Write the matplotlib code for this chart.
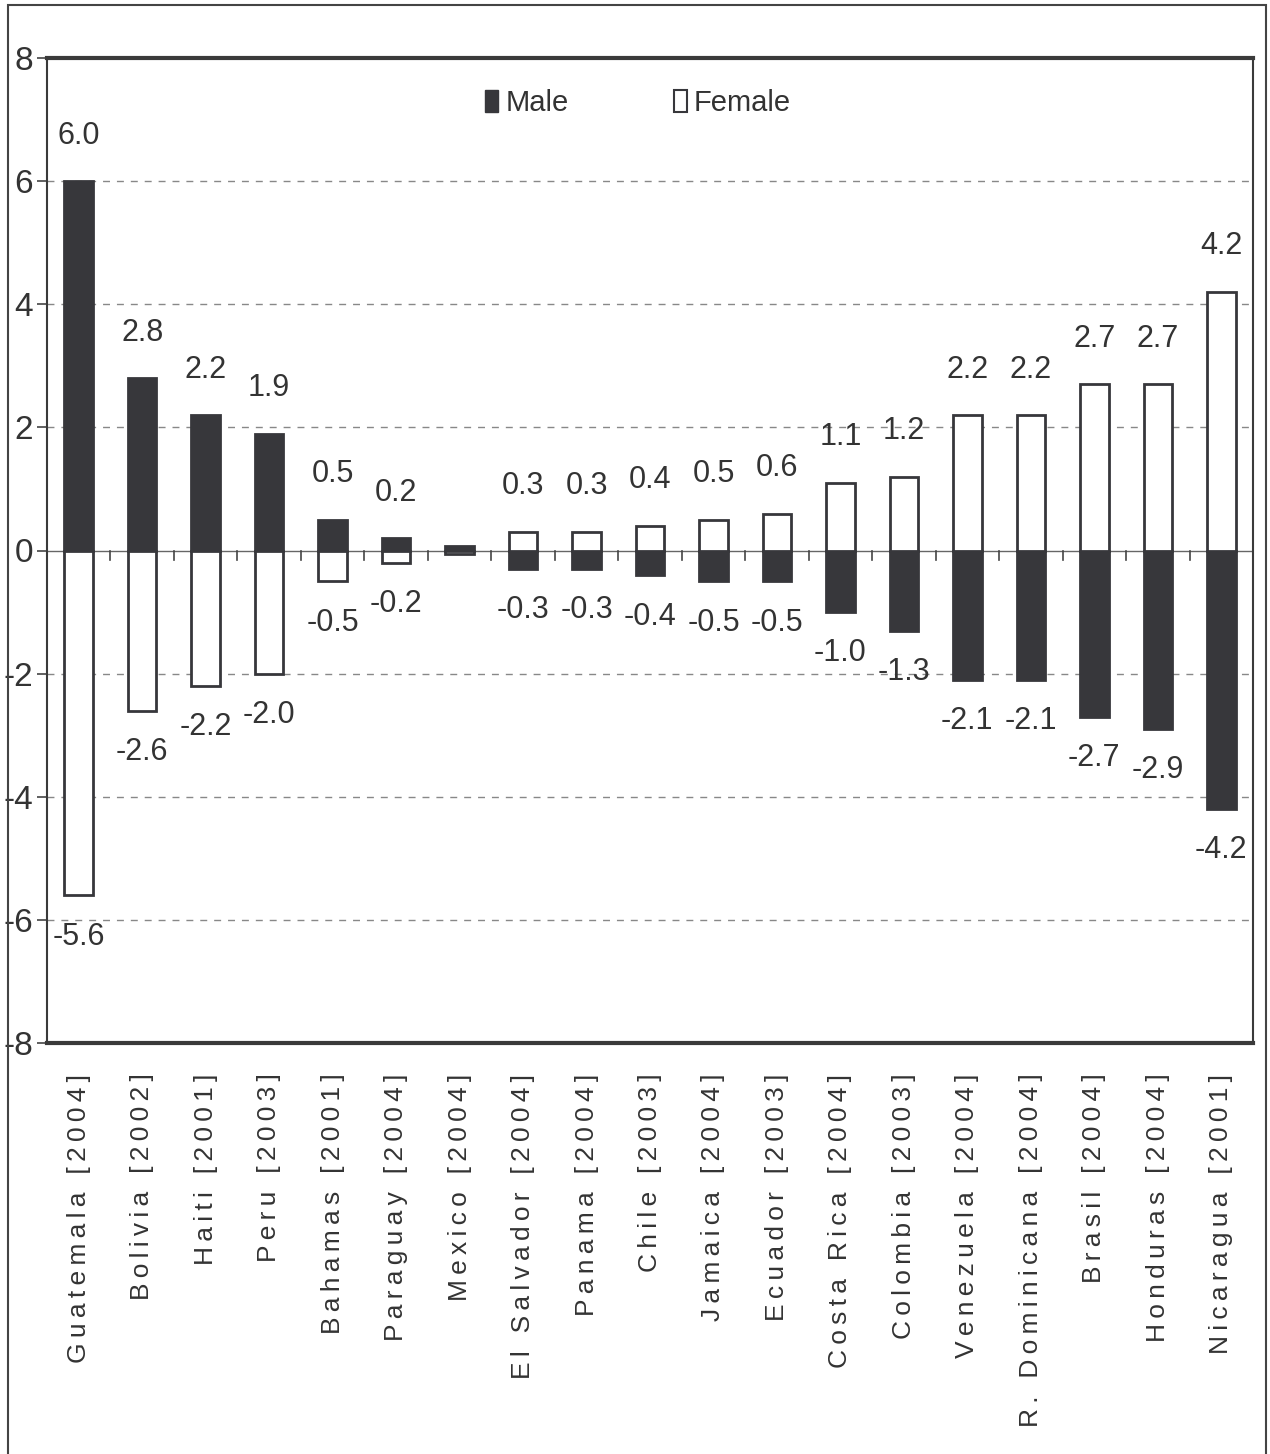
import matplotlib
matplotlib.use("Agg")
import matplotlib.pyplot as plt
from matplotlib.patches import Patch, Rectangle

countries = ["Guatemala [2004]", "Bolivia [2002]", "Haiti [2001]", "Peru [2003]",
             "Bahamas [2001]", "Paraguay [2004]", "Mexico [2004]", "El Salvador [2004]",
             "Panama [2004]", "Chile [2003]", "Jamaica [2004]", "Ecuador [2003]",
             "Costa Rica [2004]", "Colombia [2003]", "Venezuela [2004]",
             "R. Dominicana [2004]", "Brasil [2004]", "Honduras [2004]", "Nicaragua [2001]"]
male = [6.0, 2.8, 2.2, 1.9, 0.5, 0.2, 0.08, -0.3, -0.3, -0.4, -0.5, -0.5,
        -1.0, -1.3, -2.1, -2.1, -2.7, -2.9, -4.2]
female = [-5.6, -2.6, -2.2, -2.0, -0.5, -0.2, -0.06, 0.3, 0.3, 0.4, 0.5, 0.6,
          1.1, 1.2, 2.2, 2.2, 2.7, 2.7, 4.2]
show_label = [True] * 6 + [False] + [True] * 12
yticks = [-8, -6, -4, -2, 0, 2, 4, 6, 8]

FONT = ["Liberation Sans", "DejaVu Sans"]
plt.rcParams["font.family"] = FONT
TXT = "#333333"
DARK = "#37373b"

fig = plt.figure(figsize=(12.7, 14.54), dpi=100)
fig.patch.set_facecolor("white")
fig.add_artist(Rectangle((8 / 1270, -0.01), 1258 / 1270, 1 - 5 / 1454 + 0.01,
                         transform=fig.transFigure, fill=False, edgecolor="#444444",
                         linewidth=1.5))

ax = fig.add_axes([47 / 1270, 1 - 1043 / 1454, 1206 / 1270, 985 / 1454])
x = list(range(len(countries)))
w = 0.45
ax.bar(x, male, width=w, color=DARK, edgecolor=DARK, linewidth=2, zorder=3)
ax.bar(x, female, width=w, color="white", edgecolor=DARK, linewidth=2, zorder=3)

for xi, m, f, s in zip(x, male, female, show_label):
    if not s:
        continue
    for v in (m, f):
        if v >= 0:
            ax.annotate(f"{v:.1f}", (xi, v), xytext=(0, 22), textcoords="offset points",
                        ha="center", va="bottom", fontsize=22, color=TXT)
        else:
            ax.annotate(f"{v:.1f}", (xi, v), xytext=(0, -19), textcoords="offset points",
                        ha="center", va="top", fontsize=22, color=TXT)

ax.set_xlim(-0.5, len(countries) - 0.5)
ax.set_ylim(-8, 8)
ax.set_yticks(yticks)
ax.set_yticklabels([str(t) for t in yticks], fontsize=24, color=TXT)
ax.tick_params(axis="y", direction="out", length=7, width=1.2, color="#444444", pad=3)

for t in [-6, -4, -2, 2, 4, 6]:
    ax.axhline(t, color="#888888", linestyle=(0, (5, 5)), linewidth=1, zorder=1)
ax.axhline(0, color="#666666", linewidth=1, zorder=2)

for b in [i + 0.5 for i in range(len(countries) - 1)]:
    ax.plot([b, b], [0, -0.16], color="#444444", linewidth=1.2, zorder=2)

ax.set_xticks(x)
ax.set_xticklabels(["\u2009".join(c) for c in countries], rotation=90, fontsize=19,
                   color=TXT, va="top", ha="center")
ax.tick_params(axis="x", length=0, pad=22)

for side, lw in [("top", 3), ("bottom", 3), ("left", 1.5), ("right", 1.5)]:
    ax.spines[side].set_linewidth(lw)
    ax.spines[side].set_color("#3a3a3a")

handles = [Patch(facecolor=DARK, edgecolor=DARK, label="Male"),
           Patch(facecolor="white", edgecolor=DARK, linewidth=1.5, label="Female")]
ax.legend(handles=handles, loc="center", bbox_to_anchor=(0.49, 0.954), ncol=2,
          frameon=False, fontsize=21, handlelength=0.45, handleheight=0.75,
          handletextpad=0.25, columnspacing=3.6, labelcolor=TXT)

fig.savefig("out.png", dpi=100, facecolor="white")
